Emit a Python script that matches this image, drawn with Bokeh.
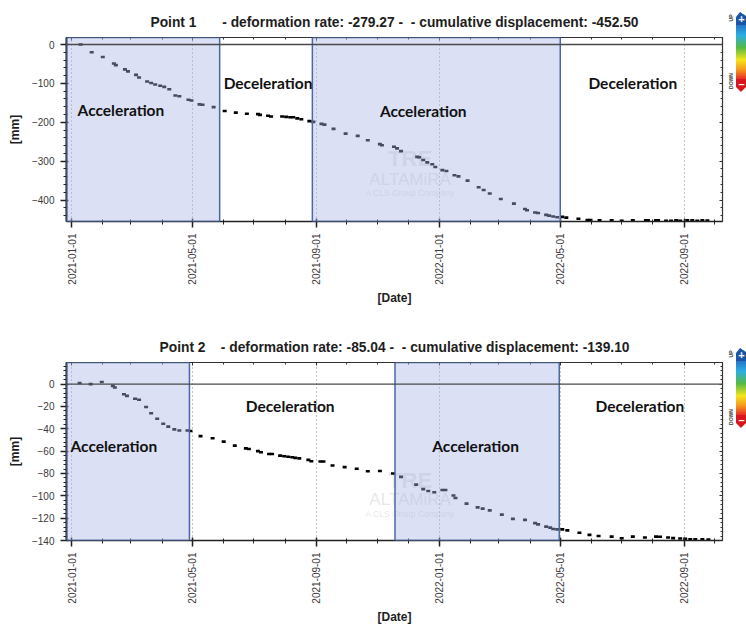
import math
import numpy as np
import pandas as pd
from bokeh.plotting import figure
from bokeh.layouts import column, row
from bokeh.models import (Range1d, DatetimeAxis, LinearAxis, FixedTicker, SingleIntervalTicker,
                          DatetimeTickFormatter, BoxAnnotation, Span, ColumnDataSource, Label, Div)
from bokeh.core.properties import value
from bokeh.embed import file_html
from bokeh.resources import INLINE

# ---------------- data ----------------
p1_dates = ["2021-01-10", "2021-01-21", "2021-02-01", "2021-02-12", "2021-02-14", "2021-02-23",
            "2021-02-26", "2021-03-06", "2021-03-09", "2021-03-17", "2021-03-21", "2021-03-25",
            "2021-03-30", "2021-04-03", "2021-04-08", "2021-04-14", "2021-04-18", "2021-04-27",
            "2021-04-30", "2021-05-08", "2021-05-11", "2021-05-22", "2021-06-02", "2021-06-13",
            "2021-06-24", "2021-07-05", "2021-07-07", "2021-07-15", "2021-07-18", "2021-07-29",
            "2021-08-02", "2021-08-06", "2021-08-09", "2021-08-13", "2021-08-17", "2021-08-25",
            "2021-08-29", "2021-09-06", "2021-09-09", "2021-09-18", "2021-09-30", "2021-10-12",
            "2021-10-22", "2021-11-03", "2021-11-05", "2021-11-17", "2021-11-20", "2021-11-24",
            "2021-12-10", "2021-12-12", "2021-12-16", "2021-12-20", "2021-12-25", "2021-12-28",
            "2022-01-04", "2022-01-08", "2022-01-16", "2022-01-20", "2022-01-29", "2022-02-09",
            "2022-02-14", "2022-02-20", "2022-03-03", "2022-03-16", "2022-03-27", "2022-03-29",
            "2022-04-06", "2022-04-09", "2022-04-17", "2022-04-20", "2022-04-24", "2022-04-28",
            "2022-05-03", "2022-05-07", "2022-05-19", "2022-05-28", "2022-05-31", "2022-06-09",
            "2022-06-21", "2022-07-01", "2022-07-12", "2022-07-25", "2022-07-27", "2022-08-04",
            "2022-08-06", "2022-08-14", "2022-08-19", "2022-08-24", "2022-08-28", "2022-09-04",
            "2022-09-09", "2022-09-14", "2022-09-19", "2022-09-24"]
p1_disp = [0, -20, -32, -49, -53, -64, -69, -78, -85, -95, -99, -103, -106, -109, -115, -131,
           -133, -142, -144, -154, -155, -161, -171, -175, -178, -179, -181, -183, -185, -185,
           -186, -187, -187, -190, -192, -197, -199, -204, -206, -217, -229, -235, -246, -256,
           -259, -263, -267, -274, -289, -290, -297, -303, -308, -315, -323, -325, -336, -339,
           -350, -367, -374, -383, -397, -409, -423, -426, -432, -433, -438, -440, -442, -444,
           -443, -445, -448, -451, -451, -452, -452, -453, -452, -452, -452, -452, -452, -453,
           -453, -452, -453, -452, -452, -453, -452, -452.5]

p2_dates = ["2021-01-09", "2021-01-20", "2021-01-31", "2021-02-11", "2021-02-13", "2021-02-22",
            "2021-02-25", "2021-03-05", "2021-03-09", "2021-03-16", "2021-03-21", "2021-03-27",
            "2021-04-02", "2021-04-07", "2021-04-13", "2021-04-18", "2021-04-26", "2021-04-29",
            "2021-05-09", "2021-05-21", "2021-06-01", "2021-06-12", "2021-06-23", "2021-06-26",
            "2021-07-05", "2021-07-08", "2021-07-16", "2021-07-19", "2021-07-27", "2021-07-31",
            "2021-08-04", "2021-08-08", "2021-08-11", "2021-08-15", "2021-08-24", "2021-08-27",
            "2021-09-05", "2021-09-08", "2021-09-17", "2021-09-29", "2021-10-11", "2021-10-22",
            "2021-11-03", "2021-11-16", "2021-11-24", "2021-12-09", "2021-12-16", "2021-12-21",
            "2021-12-27", "2022-01-04", "2022-01-07", "2022-01-15", "2022-01-17", "2022-01-28",
            "2022-02-08", "2022-02-13", "2022-02-20", "2022-03-04", "2022-03-15", "2022-03-27",
            "2022-04-06", "2022-04-09", "2022-04-17", "2022-04-21", "2022-04-24", "2022-04-28",
            "2022-05-03", "2022-05-08", "2022-05-20", "2022-05-30", "2022-06-08", "2022-06-21",
            "2022-07-01", "2022-07-12", "2022-07-24", "2022-08-04", "2022-08-08", "2022-08-16",
            "2022-08-21", "2022-08-28", "2022-09-02", "2022-09-07", "2022-09-12", "2022-09-19",
            "2022-09-25"]
p2_disp = [1, 0, 2, -1.5, -3, -9, -10.5, -13, -14, -20.5, -26, -31, -35.5, -38, -40.5, -41.5,
           -41.5, -42, -46.5, -48.5, -51.5, -55, -57.5, -58, -60, -61, -62.5, -62.5, -64, -64.5,
           -65, -65.5, -66, -66.5, -67.8, -69, -69.2, -69.2, -72.8, -74.3, -75.8, -78, -77.8,
           -80, -83, -90, -94, -95.7, -96.8, -94.8, -94.8, -99.7, -102, -107, -110.3, -111.5,
           -113, -116.8, -120.6, -121.5, -124.4, -125.6, -127.6, -128.5, -129.7, -130, -130,
           -130.9, -133, -135, -136, -136.5, -138, -136.5, -137.3, -136.5, -136.7, -137.3,
           -137.9, -138.2, -138.5, -138.9, -138.9, -138.9, -139.1]

point_names = ["Point 1", "Point 2"]
deformation_rates = [-279.27, -85.04]
cumulative_disp = [-452.50, -139.10]

# acceleration periods (start None = from the start of the axis)
p1_accel = [(None, "2021-05-28"), ("2021-08-28", "2022-05-01")]
p2_accel = [(None, "2021-04-28"), ("2021-11-18", "2022-04-30")]

phase_names = ["Acceleration", "Deceleration", "Acceleration", "Deceleration"]
p1_phase_pos = [("2021-02-19", -169), ("2021-07-15", -100), ("2021-12-16", -172), ("2022-07-12", -100)]
p2_phase_pos = [("2021-02-12", -55.5), ("2021-08-06", -19.4), ("2022-02-06", -55.5), ("2022-07-19", -19.4)]

watermark_lines = ["TRE", "ALTAMiRA", "A CLS Group Company"]
p1_wm_y = [-292, -346, -382]
p2_wm_y = [-86, -103, -116]

legend_colors = ["#236ec3", "#2daee1", "#55b946", "#f5e41e", "#f5961e", "#e42328"]
legend_stops = [0.0, 0.2, 0.42, 0.64, 0.82, 1.0]

x_start, x_end = "2020-12-27", "2022-10-09"
major_months = pd.date_range("2021-01-01", "2022-09-01", freq="4MS")
minor_months = pd.date_range("2020-12-01", "2022-10-01", freq="MS")


def ms(d):
    return pd.Timestamp(d).value / 1e6


major_ms = [ms(d) for d in major_months]
minor_ms = [ms(d) for d in minor_months]

FONT = "Liberation Sans"
TICK_COLOR = "#3a3a3a"
CB_W = 20
W = 746 - CB_W
FRAME_L, FRAME_R = 66, 722


def date_fmt():
    f = "%Y-%m-%d"
    return DatetimeTickFormatter(milliseconds=f, seconds=f, minsec=f, minutes=f, hourmin=f,
                                 hours=f, days=f, months=f, years=f)


def make_legend(uid, height, top):
    stops = "".join('<stop offset="%.2f" stop-color="%s"/>' % (o, c)
                    for o, c in zip(legend_stops, legend_colors))
    t = top
    svg = (
        '<svg xmlns="http://www.w3.org/2000/svg" width="%d" height="%d" style="display:block">'
        '<defs><linearGradient id="grad%s" x1="0" y1="0" x2="0" y2="1">%s</linearGradient></defs>'
        '<rect x="10" y="%g" width="10" height="%g" fill="url(#grad%s)"/>'
        '<polygon points="10,%g 10,%g 14,%g 20,%g 20,%g" fill="#1b55a5"/>'
        '<polygon points="10,%g 20,%g 20,%g 15,%g 10,%g" fill="#d8161e"/>'
        '<text x="15.5" y="%g" text-anchor="middle" font-family="Liberation Sans" font-weight="bold" '
        'font-size="11" fill="white">+</text>'
        '<text x="15.5" y="%g" text-anchor="middle" font-family="Liberation Sans" font-weight="bold" '
        'font-size="11" fill="white">\u2013</text>'
        '<text x="0" y="0" text-anchor="middle" font-family="Liberation Sans" font-weight="bold" '
        'font-size="5" fill="#333" transform="translate(6.5,%g) rotate(-90)">UP</text>'
        '<text x="0" y="0" text-anchor="middle" font-family="Liberation Sans" font-weight="bold" '
        'font-size="5" fill="#333" transform="translate(6.5,%g) rotate(-90)">DOWN</text>'
        '</svg>'
    ) % (CB_W, height, uid, stops, t + 12, 56, uid,
         t + 13, t + 5, t, t + 4, t + 13,
         t + 67, t + 67, t + 75, t + 80, t + 75,
         t + 11, t + 76, t + 6, t + 69)
    return Div(text=svg, width=CB_W, height=height, margin=0, styles={"overflow": "visible"})


def make_panel(idx, dates, disp, accel, phase_pos, wm_y, y_lo, y_hi, y_step,
               height, top, frame_h, gap):
    bottom = height - top - frame_h
    p = figure(width=W, height=height, x_axis_type="datetime",
               x_range=Range1d(pd.Timestamp(x_start), pd.Timestamp(x_end)),
               y_range=Range1d(y_lo, y_hi), output_backend="svg", toolbar_location=None,
               min_border_left=FRAME_L, min_border_right=W - FRAME_R, min_border_top=top,
               min_border_bottom=bottom, background_fill_color="white", border_fill_color="white")
    p.outline_line_color = "#333333"
    p.outline_line_width = 1.2

    title = (point_names[idx] + gap + "- deformation rate: %.2f -\u00a0\u00a0- cumulative displacement: %.2f"
             % (deformation_rates[idx], cumulative_disp[idx]))
    p.title.text = title
    p.title.align = "center"
    p.title.text_font = FONT
    p.title.text_font_size = "13.8px"
    p.title.text_font_style = "bold"
    p.title.text_color = "#1e1e1e"
    p.title.standoff = 15

    xt = FixedTicker(ticks=major_ms, minor_ticks=minor_ms)
    yt = SingleIntervalTicker(interval=y_step, num_minor_ticks=5)

    xa = p.xaxis[0]
    xa.ticker = xt
    xa.formatter = date_fmt()
    xa.major_label_orientation = math.pi / 2
    xa.major_label_text_font = FONT
    xa.major_label_text_font_size = "10px"
    xa.major_label_text_color = TICK_COLOR
    xa.major_label_standoff = 6
    xa.axis_label = "[Date]"
    xa.axis_label_text_font = FONT
    xa.axis_label_text_font_size = "12px"
    xa.axis_label_text_font_style = "bold"
    xa.axis_label_text_color = "#1e1e1e"
    xa.axis_label_standoff = 3
    xa.axis_line_color = "#222222"
    xa.axis_line_width = 1.5
    xa.major_tick_in, xa.major_tick_out = 3, 6
    xa.minor_tick_in, xa.minor_tick_out = 2, 3
    xa.major_tick_line_color = "#222222"
    xa.minor_tick_line_color = "#222222"
    xa.major_tick_line_width = 1.5

    ya = p.yaxis[0]
    ya.ticker = yt
    ya.major_label_text_font = FONT
    ya.major_label_text_font_size = "10px"
    ya.major_label_text_color = TICK_COLOR
    ya.major_label_standoff = 6
    ya.axis_label = "[mm]"
    ya.axis_label_text_font = FONT
    ya.axis_label_text_font_size = "12px"
    ya.axis_label_text_font_style = "bold"
    ya.axis_label_text_color = "#1e1e1e"
    ya.axis_label_standoff = 7
    ya.axis_line_color = "#222222"
    ya.axis_line_width = 2
    ya.major_tick_in, ya.major_tick_out = 2, 6
    ya.minor_tick_in, ya.minor_tick_out = 1, 3
    ya.major_tick_line_color = "#222222"
    ya.minor_tick_line_color = "#222222"
    ya.major_tick_line_width = 1.5

    top_ax = DatetimeAxis(ticker=xt, formatter=date_fmt(), major_label_text_font_size="0px",
                          major_label_standoff=0, major_tick_in=3, major_tick_out=0,
                          minor_tick_in=2, minor_tick_out=0, axis_line_color="#333333",
                          major_tick_line_color="#333333", minor_tick_line_color="#333333")
    p.add_layout(top_ax, "above")
    right_ax = LinearAxis(ticker=SingleIntervalTicker(interval=y_step, num_minor_ticks=5),
                          major_label_text_font_size="0px", major_label_standoff=0,
                          major_tick_in=3, major_tick_out=0, minor_tick_in=2, minor_tick_out=0,
                          axis_line_color="#333333", major_tick_line_color="#333333",
                          minor_tick_line_color="#333333")
    p.add_layout(right_ax, "right")

    p.ygrid.visible = False
    p.xgrid.ticker = xt
    p.xgrid.grid_line_color = "#8a8a8a"
    p.xgrid.grid_line_dash = "1 3"
    p.xgrid.grid_line_width = 1

    # faint watermark
    wm_x = pd.Timestamp("2021-12-03")
    for txt, yy, fs, st in zip(watermark_lines, wm_y, ["22px", "17px", "8.5px"], ["bold", "normal", "normal"]):
        p.text(x=[wm_x], y=[yy], text=[txt], text_align="center", text_baseline="middle",
               text_font=value(FONT), text_font_size=fs, text_font_style=st,
               text_color="#c4c4c4", text_alpha=0.4)

    src = ColumnDataSource(dict(date=pd.to_datetime(dates), disp=disp))
    p.rect(x="date", y="disp", width=4, height=2.6, width_units="screen", height_units="screen",
           fill_color="black", line_color=None, source=src)

    for (a, b) in accel:
        kw = dict(right=ms(b), fill_color="#a9b6e6", fill_alpha=0.42,
                  line_color="#4a68a6", line_width=1.5, line_alpha=1.0)
        if a is not None:
            kw["left"] = ms(a)
        p.add_layout(BoxAnnotation(**kw))

    p.add_layout(Span(location=0, dimension="width", line_color="#4a4a4a", line_width=1.4))

    for name, (d, v) in zip(phase_names, phase_pos):
        p.add_layout(Label(x=ms(d), y=v, text=name, text_align="center", text_baseline="middle",
                           text_font="Lato", text_font_size="15.5px", text_font_style="bold",
                           text_color="#111111"))
    return p


p1 = make_panel(0, p1_dates, p1_disp, p1_accel, p1_phase_pos, p1_wm_y, -455, 18, 100,
                320, 37, 184, "\u00a0" * 6 + "\u2009")
p2 = make_panel(1, p2_dates, p2_disp, p2_accel, p2_phase_pos, p2_wm_y, -140, 19.4, 20,
                306, 42, 181, "\u00a0" * 4)
leg1 = make_legend("a", 320, 12)
leg2 = make_legend("b", 306, 28)

layout = column(row(p1, leg1), row(p2, leg2))
open("out.html", "w").write(file_html(layout, INLINE))
